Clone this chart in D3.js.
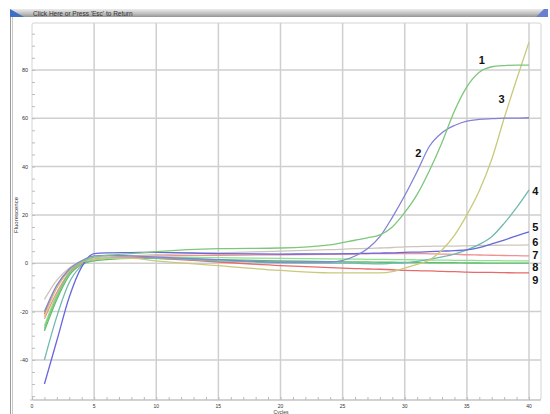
<!DOCTYPE html>
<html>
<head>
<meta charset="utf-8">
<script src="https://cdn.jsdelivr.net/npm/d3@7"></script>
<style>
  body { margin: 0; background: #fff; }
  svg { display: block; font-family: "Liberation Sans", Arial, sans-serif; }
</style>
</head>
<body>
<svg id="chart" width="550" height="414"></svg>
<script>
const cycles = [1, 2, 3, 4, 5, 6, 8, 10, 15, 20, 24, 26, 27, 28, 29, 30, 31, 32, 33, 34, 35, 36, 37, 38, 39, 40];

// fluorescence per curve, one value per cycle above
const curve1 = [-27, -14, -4, 0.5, 2.5, 3.2, 4, 4.8, 6, 6.3, 7.6, 9.5, 10.5, 11.7, 15, 21, 28.5, 38.5, 50, 63, 73, 79, 81.3, 81.8, 82, 82];
const curve2 = [-20, -9, -2.5, 1, 3, 3.2, 3, 2.5, 1.5, 0.5, 0.5, 3, 6, 11, 19, 28, 38, 48.5, 54, 57, 58.8, 59.5, 59.8, 60, 60, 60.2];
const curve3 = [-22, -10, -3, 0.5, 1.5, 2, 2, 1, -1, -3, -4, -4, -4, -4, -3.5, -2, -0.5, 1.4, 5.5, 11.5, 20, 30, 43, 60, 76, 91.5];
const curve4 = [-40, -22, -8, -1, 1.5, 2, 2, 2, 1, 0.2, 0, 0, -0.2, -0.3, 0, 0.2, 0.8, 1.6, 2.6, 3.8, 5.5, 7.8, 11, 16.5, 23, 30.3];
const curve5 = [-50, -32, -14, -1.5, 4, 4.3, 4.4, 4.5, 4, 3.8, 3.9, 4, 4.1, 4.2, 4.3, 4.5, 4.6, 4.8, 5, 5.2, 5.5, 6.5, 8, 9.6, 11.3, 13];
const curve6 = [-15, -7, -2, 1, 2, 2.5, 3, 3.5, 4.3, 5, 5.6, 6, 6.1, 6.3, 6.5, 6.8, 6.9, 7, 7.1, 7.1, 7.2, 7.3, 7.4, 7.5, 7.5, 7.6];
const curve7 = [-23, -12, -4, 0, 1.5, 2, 2.5, 3, 3.3, 3.5, 3.7, 3.8, 3.9, 4, 4, 4, 4, 3.9, 3.8, 3.7, 3.5, 3.4, 3.3, 3.2, 3.1, 3];
const curve8 = [-26, -13, -4, 0, 1.5, 2, 2.3, 2.5, 2.3, 2, 1.8, 1.7, 1.6, 1.6, 1.5, 1.5, 1.4, 1.3, 1.3, 1.2, 1.2, 1.1, 1.1, 1, 1, 1];
const curve8b = [-28, -15, -5, -0.5, 1, 1.5, 2, 2, 1.5, 1, 0.7, 0.5, 0.5, 0.4, 0.4, 0.3, 0.3, 0.2, 0.2, 0.2, 0.1, 0.1, 0, 0, 0, 0];
const curve9 = [-21, -10, -3, 0.5, 2, 2.3, 2.5, 2, 0.5, -1, -1.8, -2.2, -2.4, -2.5, -2.7, -3, -3.1, -3.2, -3.4, -3.5, -3.7, -3.8, -3.8, -3.9, -4, -4];

const xTicks = [0, 5, 10, 15, 20, 25, 30, 35, 40];
const yTicks = [-40, -20, 0, 20, 40, 60, 80];

// label text and where it sits (cycle, fluorescence)
const labelText = ["1", "2", "3", "4", "5", "6", "7", "8", "9"];
const labelAt = [[36.2, 84], [31.1, 45.5], [37.8, 68], [40.5, 30], [40.5, 15], [40.5, 8.6], [40.5, 3.4], [40.5, -1.8], [40.5, -7]];

const series = [
  { values: curve8b, color: "#5cbf6a" },
  { values: curve8, color: "#8fe08f" },
  { values: curve9, color: "#e86a6a" },
  { values: curve7, color: "#f29090" },
  { values: curve6, color: "#cdc5bb" },
  { values: curve4, color: "#6fb9ae" },
  { values: curve5, color: "#6666dd" },
  { values: curve3, color: "#c9c97c" },
  { values: curve2, color: "#8282d6" },
  { values: curve1, color: "#7cc77c" }
];

const svg = d3.select("#chart");

// window chrome
const defs = svg.append("defs");
const grad = defs.append("linearGradient").attr("id", "bar").attr("x1", 0).attr("y1", 0).attr("x2", 0).attr("y2", 1);
grad.append("stop").attr("offset", "0%").attr("stop-color", "#ececec");
grad.append("stop").attr("offset", "60%").attr("stop-color", "#bdbdbd");
grad.append("stop").attr("offset", "100%").attr("stop-color", "#949494");

svg.append("rect").attr("x", 10).attr("y", 9).attr("width", 538).attr("height", 8).attr("fill", "url(#bar)");
svg.append("path").attr("d", "M10,9 L24,17 L10,17 Z").attr("fill", "#3f6fc4");
svg.append("path").attr("d", "M536,17 L544,9 L548,9 L548,17 Z").attr("fill", "#6a7fd0");
svg.append("text").attr("x", 33).attr("y", 15.5)
  .attr("font-size", 6.5).attr("fill", "#333")
  .text("Click Here or Press 'Esc' to Return");
svg.append("line").attr("x1", 10.5).attr("x2", 10.5).attr("y1", 17).attr("y2", 414).attr("stroke", "#9a9a9a");
svg.append("line").attr("x1", 12.5).attr("x2", 12.5).attr("y1", 17).attr("y2", 414).attr("stroke", "#c8c8c8");

const x = d3.scaleLinear().domain([0, 40]).range([32, 529]);
const y = d3.scaleLinear().domain([-56.6, 99.4]).range([400, 23]);

// plot frame
svg.append("rect").attr("x", 32).attr("y", 23).attr("width", 509).attr("height", 377)
  .attr("rx", 2).attr("fill", "none").attr("stroke", "#d4d4d4");

// grid
svg.append("g").selectAll("line").data(xTicks.filter(d => d > 0)).join("line")
  .attr("x1", d => x(d)).attr("x2", d => x(d)).attr("y1", 23).attr("y2", 400)
  .attr("stroke", "#cfcfcf").attr("stroke-width", 1.5);
svg.append("g").selectAll("line").data(yTicks).join("line")
  .attr("x1", 32).attr("x2", 541).attr("y1", d => y(d)).attr("y2", d => y(d))
  .attr("stroke", "#cfcfcf").attr("stroke-width", 1.5);

// axes
const xAxis = svg.append("g").attr("transform", "translate(0,400)")
  .call(d3.axisBottom(x).tickValues(d3.range(0, 41, 1)).tickSize(-3).tickFormat(""));
xAxis.select(".domain").attr("stroke", "#bbb").attr("d", "M30,0H541");
xAxis.selectAll(".tick line").attr("stroke", "#bbb");
svg.append("g").selectAll("text").data(xTicks).join("text")
  .attr("x", d => x(d)).attr("y", 407.5).attr("text-anchor", "middle")
  .attr("font-size", 5).attr("fill", "#333").text(d => d);

const yAxis = svg.append("g").attr("transform", "translate(32,0)")
  .call(d3.axisRight(y).tickValues(d3.range(-55, 100, 5)).tickSize(3).tickFormat(""));
yAxis.select(".domain").remove();
yAxis.selectAll(".tick line").attr("stroke", "#bbb");
svg.append("g").selectAll("text").data(yTicks).join("text")
  .attr("x", 28).attr("y", d => y(d) + 2).attr("text-anchor", "end")
  .attr("font-size", 5.5).attr("fill", "#333").text(d => d);

svg.append("text").attr("transform", "translate(18,215) rotate(-90)")
  .attr("text-anchor", "middle").attr("font-size", 6).attr("fill", "#333").text("Fluorescence");
svg.append("text").attr("x", 281).attr("y", 413.5).attr("text-anchor", "middle")
  .attr("font-size", 5).attr("fill", "#333").text("Cycles");

// curves
const line = d3.line()
  .x((d, i) => x(cycles[i]))
  .y(d => y(d))
  .curve(d3.curveMonotoneX);

svg.append("g").selectAll("path").data(series).join("path")
  .attr("d", d => line(d.values))
  .attr("fill", "none")
  .attr("stroke", d => d.color)
  .attr("stroke-width", 1.3);

// curve numbers
svg.append("g").selectAll("text").data(labelText).join("text")
  .attr("x", (d, i) => x(labelAt[i][0]))
  .attr("y", (d, i) => y(labelAt[i][1]))
  .attr("dy", "0.35em")
  .attr("text-anchor", "middle")
  .attr("font-size", 11).attr("font-weight", "bold").attr("fill", "#111")
  .text(d => d);
</script>
</body>
</html>
